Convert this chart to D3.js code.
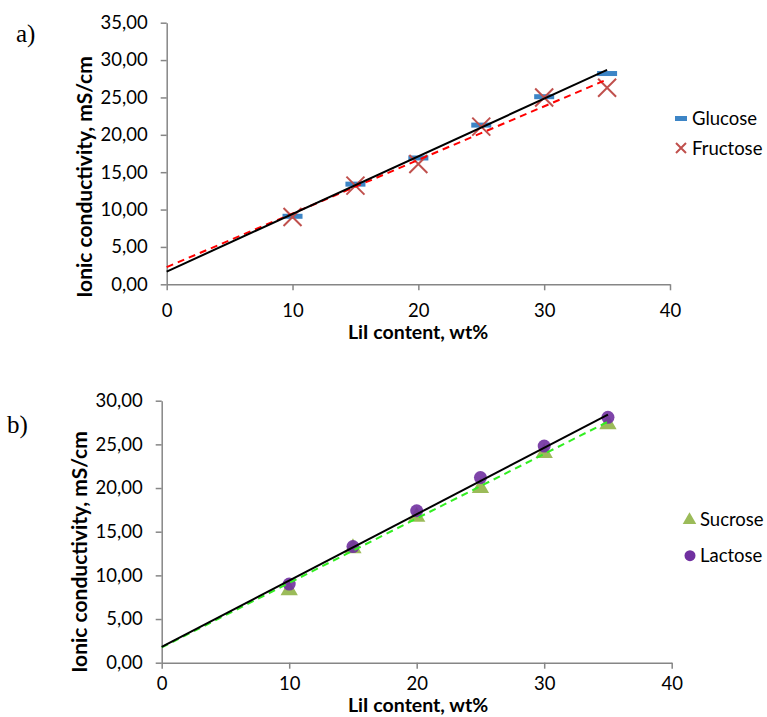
<!DOCTYPE html>
<html><head><meta charset="utf-8">
<script src="https://cdn.jsdelivr.net/npm/d3@7"></script>
<style>body{margin:0;background:#fff}svg{display:block}</style>
</head><body>
<svg id="c" width="767" height="717"></svg>
<script>
// ---- data ----
const xValues = [10, 15, 20, 25, 30, 35];
const glucose = [9.1, 13.4, 16.9, 21.3, 25.1, 28.2];
const fructose = [9.0, 13.2, 16.1, 21.1, 25.0, 26.3];
const sucrose = [8.3, 13.1, 16.7, 20.0, 24.0, 27.3];
const lactose = [9.0, 13.3, 17.4, 21.2, 24.8, 28.1];
const glucoseFit = [[0, 1.7], [35, 28.7]];
const fructoseFit = [[0, 2.3], [35, 27.4]];
const lactoseFit = [[0, 1.8], [35, 28.4]];
const sucroseFit = [[0, 1.75], [35, 27.6]];
const xTicks = [0, 10, 20, 30, 40];
const yTicksA = [0, 5, 10, 15, 20, 25, 30, 35];
const yTicksB = [0, 5, 10, 15, 20, 25, 30];
const yTitle = "Ionic conductivity, mS/cm";
const xTitle = "LiI content, wt%";

const svg = d3.select("#c");
const FONT = "Lato, 'Open Sans', sans-serif";
const fmt = v => d3.format(".2f")(v).replace(".", ",");

function panel(cfg) {
  const g = svg.append("g");
  const x = d3.scaleLinear().domain([0, 40]).range(cfg.xr);
  const y = d3.scaleLinear().domain(cfg.yd).range(cfg.yr);
  const ax = d3.axisBottom(x).tickValues(xTicks).tickSize(6).tickSizeOuter(0).tickPadding(cfg.xpad);
  const ay = d3.axisLeft(y).tickValues(cfg.yticks).tickSize(6).tickSizeOuter(0).tickPadding(13).tickFormat(fmt);
  const gx = g.append("g").attr("transform", `translate(0,${cfg.yr[0]})`).call(ax);
  const gy = g.append("g").attr("transform", `translate(${cfg.xr[0]},0)`).call(ay);
  [gx, gy].forEach(a => {
    a.select(".domain").attr("stroke", "#868686").attr("stroke-width", 1.5);
    a.selectAll(".tick line").attr("stroke", "#868686").attr("stroke-width", 1.5);
    a.selectAll("text").attr("font-family", FONT).attr("font-size", 18.5).attr("fill", "#000");
  });
  g.append("text").attr("transform", `translate(${cfg.ytx},${cfg.yty}) rotate(-90)`)
    .attr("text-anchor", "middle").attr("font-family", FONT).attr("font-weight", "bold")
    .attr("font-size", 21).text(yTitle);
  g.append("text").attr("x", cfg.xtx).attr("y", cfg.xty).attr("text-anchor", "middle")
    .attr("font-family", FONT).attr("font-weight", "bold").attr("font-size", 19.5).text(xTitle);
  g.append("text").attr("x", cfg.lx).attr("y", cfg.ly).attr("font-family", "'Liberation Serif', serif")
    .attr("font-size", 25).text(cfg.label);
  const line = d3.line().x(d => x(d[0])).y(d => y(d[1]));
  return { g, x, y, line };
}

// ---- panel a ----
const A = panel({ xr: [166.7, 670], yd: [0, 35], yr: [284.3, 22.7], yticks: yTicksA, xpad: 14,
  ytx: 92, yty: 177, xtx: 418, xty: 339, lx: 16, ly: 42, label: "a)" });
A.g.selectAll(".glu").data(xValues).enter().append("rect")
  .attr("x", (d) => A.x(d) - 10).attr("y", (d, i) => A.y(glucose[i]) - 2.5)
  .attr("width", 20).attr("height", 5).attr("fill", "#3d85c6");
A.g.selectAll(".fru").data(xValues).enter().append("path")
  .attr("d", (d, i) => { const cx = A.x(d), cy = A.y(fructose[i]), s = 9;
    return `M${cx - s},${cy - s}L${cx + s},${cy + s}M${cx - s},${cy + s}L${cx + s},${cy - s}`; })
  .attr("stroke", "#c0504d").attr("stroke-width", 2).attr("fill", "none");
A.g.append("path").attr("d", A.line(fructoseFit)).attr("stroke", "#ff0000").attr("stroke-width", 2)
  .attr("stroke-dasharray", "7,5").attr("fill", "none");
A.g.append("path").attr("d", A.line(glucoseFit)).attr("stroke", "#000").attr("stroke-width", 2).attr("fill", "none");
// legend a
A.g.append("rect").attr("x", 675).attr("y", 116).attr("width", 12).attr("height", 5).attr("fill", "#3d85c6");
A.g.append("text").attr("x", 692).attr("y", 124.5).attr("font-family", FONT).attr("font-size", 18.5).text("Glucose");
A.g.append("path").attr("d", "M676,143L686,153M676,153L686,143").attr("stroke", "#c0504d").attr("stroke-width", 2);
A.g.append("text").attr("x", 692).attr("y", 154.5).attr("font-family", FONT).attr("font-size", 18.5).text("Fructose");

// ---- panel b ----
const B = panel({ xr: [161.7, 671.7], yd: [0, 30], yr: [662.7, 400.7], yticks: yTicksB, xpad: 8,
  ytx: 87, yty: 552, xtx: 418, xty: 712, lx: 7, ly: 433, label: "b)" });
const tri = d3.symbol().type(d3.symbolTriangle).size(130);
B.g.selectAll(".suc").data(xValues).enter().append("path")
  .attr("transform", (d, i) => `translate(${B.x(d)},${B.y(sucrose[i])})`)
  .attr("d", tri).attr("fill", "#9bbb59");
B.g.selectAll(".lac").data(xValues).enter().append("circle")
  .attr("cx", d => B.x(d)).attr("cy", (d, i) => B.y(lactose[i])).attr("r", 6.5)
  .attr("fill", "#7030a0").attr("fill-opacity", 0.9);
B.g.append("path").attr("d", B.line(sucroseFit)).attr("stroke", "#33ee22").attr("stroke-width", 2)
  .attr("stroke-dasharray", "7,5").attr("fill", "none");
B.g.append("path").attr("d", B.line(lactoseFit)).attr("stroke", "#000").attr("stroke-width", 2).attr("fill", "none");
// legend b
B.g.append("path").attr("transform", "translate(689.5,520)").attr("d", d3.symbol().type(d3.symbolTriangle).size(80)).attr("fill", "#9bbb59");
B.g.append("text").attr("x", 700).attr("y", 525.5).attr("font-family", FONT).attr("font-size", 18.5).text("Sucrose");
B.g.append("circle").attr("cx", 690).attr("cy", 555.7).attr("r", 5.5).attr("fill", "#7030a0");
B.g.append("text").attr("x", 700).attr("y", 561.5).attr("font-family", FONT).attr("font-size", 18.5).text("Lactose");
</script>
</body></html>
